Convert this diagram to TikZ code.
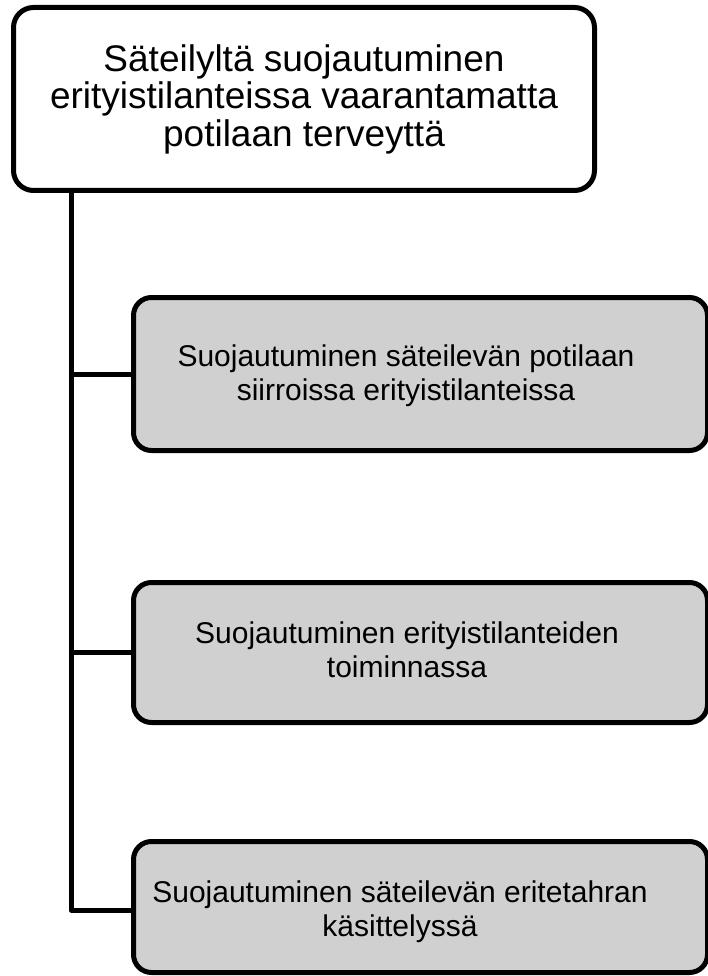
\documentclass[tikz,border=0pt]{standalone}
\usepackage{fontspec}
\setmainfont{Liberation Sans}
\definecolor{boxgrey}{RGB}{208,208,208}
\begin{document}
\begin{tikzpicture}[x=1pt,y=-1pt,
  topbox/.style={draw=black, line width=5pt, fill=white, rounded corners=20pt,
    minimum width=581pt, minimum height=183pt, inner sep=0pt, align=center,
    font=\fontsize{37}{37.5}\selectfont},
  childbox/.style={draw=black, line width=5pt, fill=boxgrey, rounded corners=18pt,
    inner sep=0pt, minimum width=574pt},
  childtext/.style={align=center, inner sep=0pt, font=\fontsize{30}{34}\selectfont},
  conn/.style={draw=black, line width=5pt, line join=round}]
\useasboundingbox (0,0) rectangle (708,976);
\clip (0,0) rectangle (708,976);
\node[topbox] (top) at (304,99) {Säteilyltä suojautuminen\\erityistilanteissa vaarantamatta\\potilaan terveyttä};
\node[childbox, minimum height=153pt] (b2) at (420.5,374) {};
\node[childtext] (t2) at (406,376) {Suojautuminen säteilevän potilaan\\siirroissa erityistilanteissa};
\node[childbox, minimum height=140pt] (b3) at (420.5,652.5) {};
\node[childtext] (t3) at (407,650) {Suojautuminen erityistilanteiden\\toiminnassa};
\node[childbox, minimum height=131pt] (b4) at (420.5,907) {};
\node[childtext] (t4) at (400,912) {Suojautuminen säteilevän eritetahran\\käsittelyssä};
\coordinate (trunk) at (71,190);
\draw[conn] (trunk) |- ([yshift=-3pt]b4.west);
\draw[conn] (trunk |- b2.west) -- (b2.west);
\draw[conn] (trunk |- b3.west) -- (b3.west);
\end{tikzpicture}
\end{document}
